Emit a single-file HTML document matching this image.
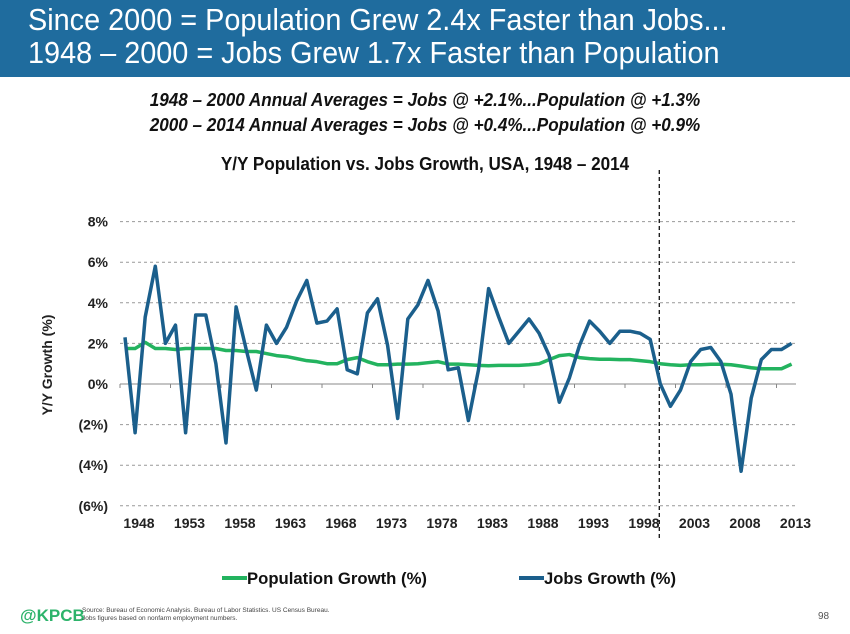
<!DOCTYPE html>
<html><head><meta charset="utf-8"><style>
body{margin:0;width:850px;height:634px;background:#fff;font-family:"Liberation Sans",sans-serif;overflow:hidden;position:relative}
.hdr{position:absolute;left:0;top:0;width:850px;height:77px;background:#1f6c9e}
.hdr div{position:absolute;left:28px;color:#fff;font-size:31px;white-space:nowrap;transform-origin:left top;transform:scaleX(0.93)}
.sub{position:absolute;left:0;width:850px;text-align:center;font-weight:bold;font-style:italic;font-size:18px;color:#111;transform:scaleX(0.95);transform-origin:center top}
</style></head><body>
<div class="hdr">
<div style="top:2px">Since 2000 = Population Grew 2.4x Faster than Jobs...</div>
<div style="top:35px">1948 – 2000 = Jobs Grew 1.7x Faster than Population</div>
</div>
<div class="sub" style="top:90px">1948 – 2000 Annual Averages = Jobs @ +2.1%...Population @ +1.3%</div>
<div class="sub" style="top:115px">2000 – 2014 Annual Averages = Jobs @ +0.4%...Population @ +0.9%</div>
<div class="sub" style="top:154px;font-style:normal">Y/Y Population vs. Jobs Growth, USA, 1948 – 2014</div>
<svg id="chart" width="850" height="634" style="position:absolute;left:0;top:0"></svg>
<div style="position:absolute;left:20px;top:606px;color:#2db36b;font-weight:bold;font-size:17px">@KPCB</div>
<div style="position:absolute;left:82px;top:607px;font-size:6.5px;line-height:8px;color:#444">Source: Bureau of Economic Analysis. Bureau of Labor Statistics. US Census Bureau.<br>Jobs figures based on nonfarm employment numbers.</div>
<div style="position:absolute;left:818px;top:611px;font-size:10px;color:#555">98</div>
<script>
const years=[];for(let y=1948;y<=2014;y++)years.push(y);
const jobs=[2.3,-2.4,3.3,5.8,2.0,2.9,-2.4,3.4,3.4,1.0,-2.9,3.8,1.7,-0.3,2.9,2.0,2.8,4.1,5.1,3.0,3.1,3.7,0.7,0.5,3.5,4.2,1.9,-1.7,3.2,3.9,5.1,3.6,0.7,0.8,-1.8,0.7,4.7,3.3,2.0,2.6,3.2,2.5,1.4,-0.9,0.3,1.9,3.1,2.6,2.0,2.6,2.6,2.5,2.2,0.0,-1.1,-0.3,1.1,1.7,1.8,1.1,-0.5,-4.3,-0.7,1.2,1.7,1.7,2.0];
const pop=[1.75,1.75,2.05,1.75,1.75,1.7,1.75,1.75,1.75,1.75,1.65,1.65,1.6,1.6,1.5,1.4,1.35,1.25,1.15,1.1,1.0,1.0,1.2,1.3,1.1,0.95,0.95,0.98,0.98,1.0,1.05,1.1,0.98,0.98,0.95,0.92,0.9,0.92,0.92,0.92,0.95,1.0,1.2,1.4,1.45,1.3,1.25,1.22,1.22,1.2,1.2,1.15,1.1,1.0,0.95,0.92,0.95,0.95,0.97,0.97,0.95,0.88,0.8,0.75,0.75,0.75,0.98];
const yTicks=[8,6,4,2,0,-2,-4,-6];
const yTickLabels=["8%","6%","4%","2%","0%","(2%)","(4%)","(6%)"];
const xTickYears=[1948,1953,1958,1963,1968,1973,1978,1983,1988,1993,1998,2003,2008,2013];
const dividerYear=2000.9;
const NS="http://www.w3.org/2000/svg",svg=document.getElementById('chart');
const X=y=>125+(y-1948)*10.1, Y=v=>384-v*20.3;
function mk(t,a,txt){const e=document.createElementNS(NS,t);for(const k in a)e.setAttribute(k,a[k]);if(txt!=null)e.textContent=txt;svg.appendChild(e);return e;}
yTicks.forEach((v,i)=>{
 if(v!==0){const g=mk('line',{x1:120,x2:796,y1:Y(v),y2:Y(v),stroke:'#999','stroke-width':1,'stroke-dasharray':'3,3'});
 
 }
 const t=mk('text',{x:108,y:Y(v)+5,'text-anchor':'end','font-size':14,'font-weight':'bold','font-family':'Liberation Sans, sans-serif',fill:'#222'},yTickLabels[i]);
 
 
});
const ax=mk('line',{x1:120,x2:796,y1:Y(0),y2:Y(0),stroke:'#888','stroke-width':1});


xTickYears.forEach(yr=>{
 const tk=mk('line',{x1:X(yr)-5,x2:X(yr)-5,y1:Y(0),y2:Y(0)+4,stroke:'#888'});
 
 
 const t=mk('text',{x:X(yr)+14,y:528,'text-anchor':'middle','font-size':14,'font-weight':'bold','font-family':'Liberation Sans, sans-serif',fill:'#222'},String(yr));
 
 
});
const yt=mk('text',{transform:'translate(52,365) rotate(-90)','text-anchor':'middle','font-size':14,'font-weight':'bold','font-family':'Liberation Sans, sans-serif',fill:'#222'},'Y/Y Growth (%)');


const dv=mk('line',{x1:X(dividerYear),x2:X(dividerYear),y1:170,y2:540,stroke:'#111','stroke-width':1.3,'stroke-dasharray':'4,3'});


const pp=mk('polyline',{points:pop.map((v,i)=>X(years[i])+','+Y(v)).join(' '),fill:'none',stroke:'#23b35f','stroke-width':3.5,'stroke-linejoin':'round'});


const jp=mk('polyline',{points:jobs.map((v,i)=>X(years[i])+','+Y(v)).join(' '),fill:'none',stroke:'#1b5f8c','stroke-width':3.5,'stroke-linejoin':'round'});


const l1=mk('line',{x1:222,x2:247,y1:578,y2:578,stroke:'#23b35f','stroke-width':4});


const t1=mk('text',{x:247,y:584,'font-size':17,'font-weight':'bold','font-family':'Liberation Sans, sans-serif',fill:'#111',textLength:180,lengthAdjust:'spacingAndGlyphs'},'Population Growth (%)');


const l2=mk('line',{x1:519,x2:544,y1:578,y2:578,stroke:'#1b5f8c','stroke-width':4});


const t2=mk('text',{x:544,y:584,'font-size':17,'font-weight':'bold','font-family':'Liberation Sans, sans-serif',fill:'#111',textLength:132,lengthAdjust:'spacingAndGlyphs'},'Jobs Growth (%)');


</script>
</body></html>
